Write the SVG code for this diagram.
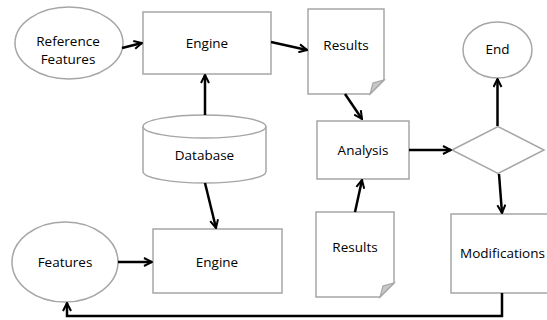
<svg xmlns="http://www.w3.org/2000/svg" width="547" height="320" viewBox="0 0 547 320">
  <style>
    .shape { fill: #ffffff; stroke: #a6a6a6; stroke-width: 1.5; }
    .fold { fill: #c8c8c8; stroke: #a6a6a6; stroke-width: 1.2; }
    .label { font-family: "Open Sans", "Liberation Sans", Arial, sans-serif; font-size: 13.5px; fill: #000000; text-anchor: middle; dominant-baseline: central; }
    .edge { fill: none; stroke: #000000; stroke-width: 2.5; marker-end: url(#arrow); }
  </style>
  <defs>
    <marker id="arrow" viewBox="0 0 10 10" refX="9" refY="5" markerWidth="10" markerHeight="10" markerUnits="userSpaceOnUse" orient="auto">
      <path d="M1,1 L9,5 L1,9" fill="none" stroke="#000000" stroke-width="2"/>
    </marker>
  </defs>

  <rect width="547" height="320" fill="#ffffff"/>

  <g id="reference-features">
    <ellipse class="shape" cx="69" cy="43" rx="54" ry="36"/>
    <text class="label" x="68" y="41">Reference</text>
    <text class="label" x="68" y="59">Features</text>
  </g>

  <g id="engine-top">
    <rect class="shape" x="143" y="12" width="128" height="62"/>
    <text class="label" x="207" y="43">Engine</text>
  </g>

  <g id="results-top">
    <path class="shape" d="M308,9 H384 V80 L370,94 H308 Z"/>
    <path class="fold" d="M384,80 L370,94 L373,83 Z"/>
    <text class="label" x="346" y="45">Results</text>
  </g>

  <g id="end">
    <ellipse class="shape" cx="497.5" cy="50" rx="34.5" ry="28"/>
    <text class="label" x="497.5" y="49">End</text>
  </g>

  <g id="database">
    <path class="shape" d="M143,126.5 V171.5 A61.5,11.5 0 0 0 266,171.5 V126.5"/>
    <ellipse class="shape" cx="204.5" cy="126.5" rx="61.5" ry="11.5"/>
    <text class="label" x="204.5" y="155">Database</text>
  </g>

  <g id="analysis">
    <rect class="shape" x="317" y="121" width="92" height="58"/>
    <text class="label" x="363" y="150">Analysis</text>
  </g>

  <g id="decision">
    <polygon class="shape" points="452,150 498,126.5 544,150 498,173.5"/>
  </g>

  <g id="features">
    <ellipse class="shape" cx="65" cy="262" rx="53" ry="40"/>
    <text class="label" x="65" y="262">Features</text>
  </g>

  <g id="engine-bottom">
    <rect class="shape" x="153" y="229" width="129" height="64"/>
    <text class="label" x="217" y="262">Engine</text>
  </g>

  <g id="results-bottom">
    <path class="shape" d="M316,212 H394 V283 L380,297 H316 Z"/>
    <path class="fold" d="M394,283 L380,297 L383,286 Z"/>
    <text class="label" x="355" y="247">Results</text>
  </g>

  <g id="modifications">
    <rect class="shape" x="451" y="214" width="100" height="79"/>
    <text class="label" x="502.5" y="253">Modifications</text>
  </g>

  <g id="connectors">
    <line class="edge" x1="122" y1="48" x2="142" y2="43"/>
    <line class="edge" x1="271" y1="42" x2="307" y2="50"/>
    <line class="edge" x1="205" y1="115" x2="205" y2="75"/>
    <line class="edge" x1="205" y1="183" x2="216" y2="228"/>
    <line class="edge" x1="345" y1="94" x2="362" y2="119"/>
    <line class="edge" x1="355" y1="212" x2="362" y2="180"/>
    <line class="edge" x1="409" y1="150" x2="451" y2="150"/>
    <line class="edge" x1="497.5" y1="126" x2="497.5" y2="79"/>
    <line class="edge" x1="499" y1="174" x2="502" y2="213"/>
    <line class="edge" x1="118" y1="262" x2="152" y2="262"/>
    <polyline class="edge" points="502,293 502,316 67,316 67,303"/>
  </g>
</svg>
